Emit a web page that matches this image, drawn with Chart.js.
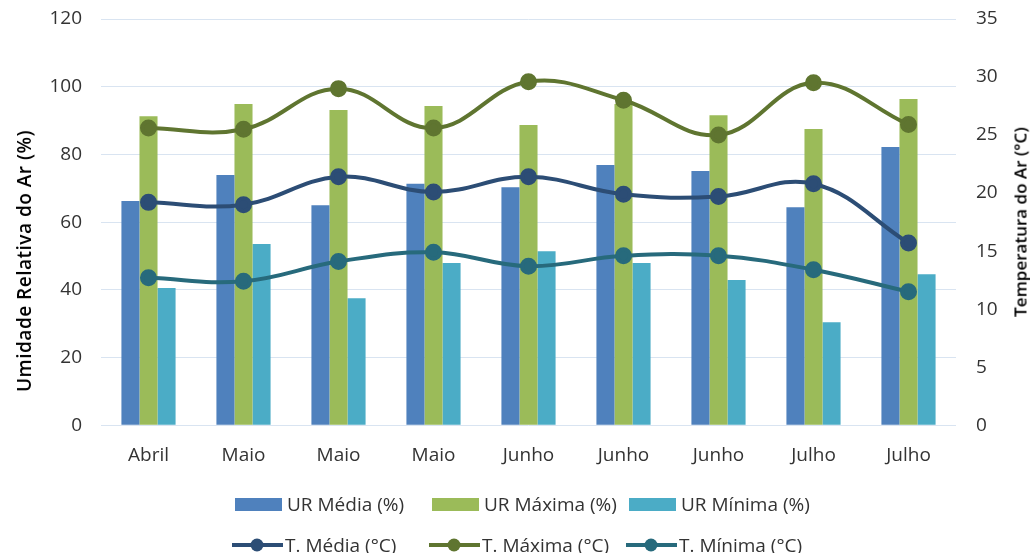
<!DOCTYPE html>
<html>
<head>
<meta charset="utf-8">
<script src="https://cdn.jsdelivr.net/npm/chart.js@4"></script>
<style>
  body { margin: 0; background: #fff; font-family: 'Open Sans', sans-serif; }
  #wrap { position: relative; width: 1030px; height: 553px; overflow: hidden; }
  #chart { position: absolute; left: 0; top: 0; }
  .axis-title { position: absolute; white-space: nowrap; font-weight: 600; color: #000;
                transform: translate(-50%, -50%) rotate(-90deg); }
  .row { position: absolute; left: 232px; display: flex; font-size: 19px; color: #333; line-height: 24px; }
  .item { width: 197px; display: flex; align-items: center; white-space: nowrap; }
  .box { display: inline-block; width: 47px; height: 13px; margin: 0 5px 0 3px; }
  .item svg { margin-right: 2px; }
</style>
</head>
<body>
<div id="wrap">
  <canvas id="chart" width="1030" height="553"></canvas>
  <div class="axis-title" style="left:24px; top:261px; font-size:19px; letter-spacing:0.5px">Umidade Relativa do Ar (%)</div>
  <div class="axis-title" style="left:1020px; top:222px; font-size:17px">Temperatura do Ar (°C)</div>
  <div class="row" id="legendBars" style="top:492px"></div>
  <div class="row" id="legendLines" style="top:533px"></div>
</div>
<script>
const categories = ['Abril', 'Maio', 'Maio', 'Maio', 'Junho', 'Junho', 'Junho', 'Julho', 'Julho'];

// umidade relativa (%)
const urMedia  = [66.2, 73.9, 65.0, 71.3, 70.3, 76.9, 75.1, 64.4, 82.2];
const urMaxima = [91.3, 94.9, 93.1, 94.3, 88.7, 94.9, 91.6, 87.5, 96.4];
const urMinima = [40.5, 53.5, 37.5, 47.9, 51.4, 47.9, 42.9, 30.4, 44.6];

// temperatura (°C)
const tMedia  = [19.2, 19.0, 21.4, 20.1, 21.4, 19.9, 19.7, 20.8, 15.7];
const tMaxima = [25.6, 25.5, 29.0, 25.6, 29.6, 28.0, 25.0, 29.5, 25.9];
const tMinima = [12.7, 12.4, 14.1, 14.9, 13.7, 14.6, 14.6, 13.4, 11.5];

const barSeries = [
    { label: 'UR Média (%)', data: urMedia, color: '#4F81BD' },
    { label: 'UR Máxima (%)', data: urMaxima, color: '#9BBB59' },
    { label: 'UR Mínima (%)', data: urMinima, color: '#4BACC6' }
];
const lineSeries = [
    { label: 'T. Média (°C)', data: tMedia, color: '#2C4D75' },
    { label: 'T. Máxima (°C)', data: tMaxima, color: '#5F7530' },
    { label: 'T. Mínima (°C)', data: tMinima, color: '#276A7C' }
];

const gridColor = '#D9E4F1';
const tickFont = { family: 'Open Sans', size: 19 };

const datasets = [
    ...lineSeries.map(s => ({
        type: 'line',
        label: s.label,
        data: s.data,
        yAxisID: 'yT',
        borderColor: s.color,
        backgroundColor: s.color,
        pointBackgroundColor: s.color,
        pointBorderColor: s.color,
        borderWidth: 4,
        pointRadius: 6.5,
        tension: 0.4,
        order: 0
    })),
    ...barSeries.map(s => ({
        type: 'bar',
        label: s.label,
        data: s.data,
        yAxisID: 'yUR',
        backgroundColor: s.color,
        categoryPercentage: 0.57,
        barPercentage: 1,
        order: 1
    }))
];

// fixed axis widths so the plot area lands where the original one is
function fitY(width) {
    return scale => {
        scale.width = width;
        scale.paddingTop = 0;
        scale.paddingBottom = 0;
    };
}

new Chart(document.getElementById('chart'), {
    data: { labels: categories, datasets: datasets },
    options: {
        responsive: false,
        animation: false,
        layout: { padding: { top: 19, bottom: 75, left: 0, right: 0 } },
        plugins: { legend: { display: false }, tooltip: { enabled: false } },
        scales: {
            x: {
                grid: { display: false },
                border: { display: false },
                ticks: { font: tickFont, color: '#333', padding: 11 }
            },
            yUR: {
                position: 'left',
                min: 0, max: 120,
                ticks: { stepSize: 20, font: tickFont, color: '#333', padding: 19 },
                grid: { color: gridColor, drawTicks: false, lineWidth: 1 },
                border: { display: false },
                afterFit: fitY(101)
            },
            yT: {
                position: 'right',
                min: 0, max: 35,
                ticks: { stepSize: 5, font: tickFont, color: '#333', padding: 20 },
                grid: { drawOnChartArea: false, drawTicks: false },
                border: { display: false },
                afterFit: fitY(74)
            }
        }
    }
});

// legend below the chart, two rows like the original
const legendBars = document.getElementById('legendBars');
barSeries.forEach(s => {
    const div = document.createElement('div');
    div.className = 'item';
    div.innerHTML = `<span class="box" style="background:${s.color}"></span>${s.label}`;
    legendBars.appendChild(div);
});
const legendLines = document.getElementById('legendLines');
lineSeries.forEach(s => {
    const div = document.createElement('div');
    div.className = 'item';
    div.innerHTML = `<svg width="51" height="16"><line x1="0" y1="8" x2="51" y2="8" stroke="${s.color}" stroke-width="4"/><circle cx="25" cy="8" r="6.5" fill="${s.color}"/></svg>${s.label}`;
    legendLines.appendChild(div);
});
</script>
</body>
</html>
